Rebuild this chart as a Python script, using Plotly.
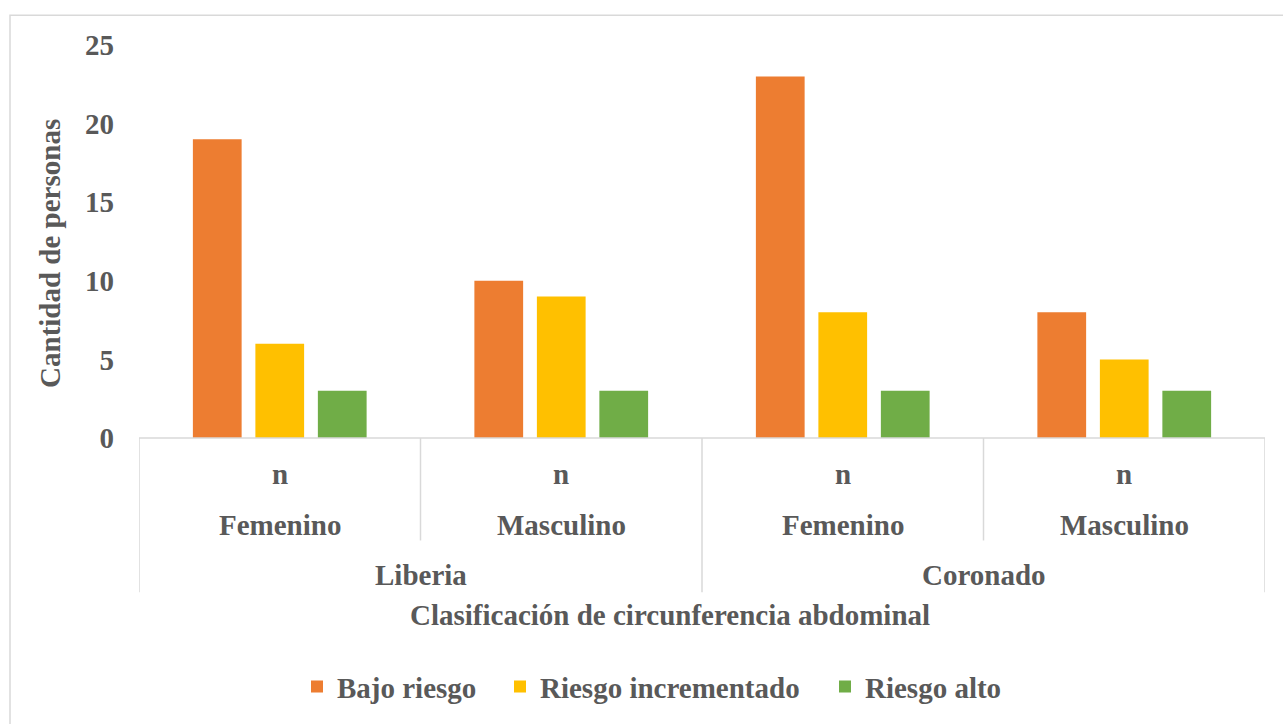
import plotly.graph_objects as go

# Data
sites = ["Liberia", "Coronado"]
sexes = ["Femenino", "Masculino"]
sub_label = "n"
series_names = ["Bajo riesgo", "Riesgo incrementado", "Riesgo alto"]
bajo_riesgo = [19, 10, 23, 8]
riesgo_incrementado = [6, 9, 8, 5]
riesgo_alto = [3, 3, 3, 3]
y_ticks = [0, 5, 10, 15, 20, 25]
colors = ["#ED7D31", "#FFC000", "#70AD47"]

series_values = [bajo_riesgo, riesgo_incrementado, riesgo_alto]
x_pos = list(range(len(sites) * len(sexes)))

FONT = "Liberation Serif"
TXT = "#595959"
LINE = "#D9D9D9"
FS = 29

W, H = 1283, 724
L, R, T, B = 139, 18, 45, 284
plot_w = W - L - R
plot_h = H - T - B
y0_px = H - B  # pixel row of the value 0


def px_x(px):
    return (px - L) / plot_w


def px_y(py):
    return (y0_px - py) / plot_h


# each series gets its own legend box so the entries can be spaced freely
legend_ids = ["legend", "legend2", "legend3"]
legend_text_left = [337, 540, 865]

fig = go.Figure()
for name, vals, col, lid in zip(series_names, series_values, colors, legend_ids):
    fig.add_trace(go.Bar(x=x_pos, y=vals, name=name, legend=lid,
                         marker=dict(color=col, line=dict(width=0))))

legend_style = dict(orientation="h", xanchor="left", y=px_y(690), yanchor="middle",
                    font=dict(family=FONT, size=FS, color=TXT, weight="bold"),
                    itemwidth=30, borderwidth=0, bgcolor="rgba(0,0,0,0)")
legends = {lid: dict(legend_style, x=px_x(tx - 40)) for lid, tx in zip(legend_ids, legend_text_left)}

fig.update_layout(
    width=W, height=H,
    margin=dict(l=L, r=R, t=T, b=B),
    paper_bgcolor="white", plot_bgcolor="white",
    barmode="group", bargap=0.334, bargroupgap=0.22,
    font=dict(family=FONT, color=TXT, size=FS),
    showlegend=True,
    xaxis=dict(range=[-0.5, 3.5], showticklabels=False, showgrid=False, zeroline=False,
               showline=False, ticks=""),
    yaxis=dict(range=[0, 25], tickvals=y_ticks, showgrid=False, zeroline=False, showline=False,
               tickfont=dict(family=FONT, size=FS, color=TXT, weight="bold"), ticks="",
               ticklabelstandoff=24),
    **legends,
)

shapes = []
# horizontal axis line
shapes.append(dict(type="line", xref="x", yref="paper", x0=-0.5, x1=3.5, y0=0, y1=0,
                   line=dict(color=LINE, width=1.5)))
# category separators (long at site boundaries, short between sexes)
for i in range(len(x_pos) + 1):
    depth = 155 if i % 2 == 0 else 103
    shapes.append(dict(type="line", xref="x", yref="paper", x0=i - 0.5, x1=i - 0.5,
                       y0=0, y1=-depth / plot_h, line=dict(color=LINE, width=1.5)))
# chart frame
shapes.append(dict(type="rect", xref="paper", yref="paper",
                   x0=px_x(10), x1=px_x(W + 20), y0=px_y(H + 20), y1=px_y(15),
                   line=dict(color=LINE, width=1.5), fillcolor="rgba(0,0,0,0)", layer="below"))

annotations = []
bold = dict(family=FONT, size=FS, color=TXT, weight="bold")
for i in x_pos:
    annotations.append(dict(x=i, y=px_y(476), xref="x", yref="paper", text=sub_label, showarrow=False,
                            yanchor="middle", font=bold))
    annotations.append(dict(x=i, y=px_y(527), xref="x", yref="paper", text=sexes[i % 2], showarrow=False,
                            yanchor="middle", font=bold))
for j, s in enumerate(sites):
    annotations.append(dict(x=2 * j + 0.5, y=px_y(578), xref="x", yref="paper", text=s, showarrow=False,
                            yanchor="middle", font=bold))
annotations.append(dict(x=px_x(670), y=px_y(618), xref="paper", yref="paper",
                        text="Clasificación de circunferencia abdominal", showarrow=False,
                        yanchor="middle", font=bold))
annotations.append(dict(x=px_x(50), y=px_y(255), xref="paper", yref="paper",
                        text="Cantidad de personas", showarrow=False, textangle=-90,
                        xanchor="center", yanchor="middle", font=bold))

fig.update_layout(shapes=shapes, annotations=annotations)
fig.write_html("out.html")
